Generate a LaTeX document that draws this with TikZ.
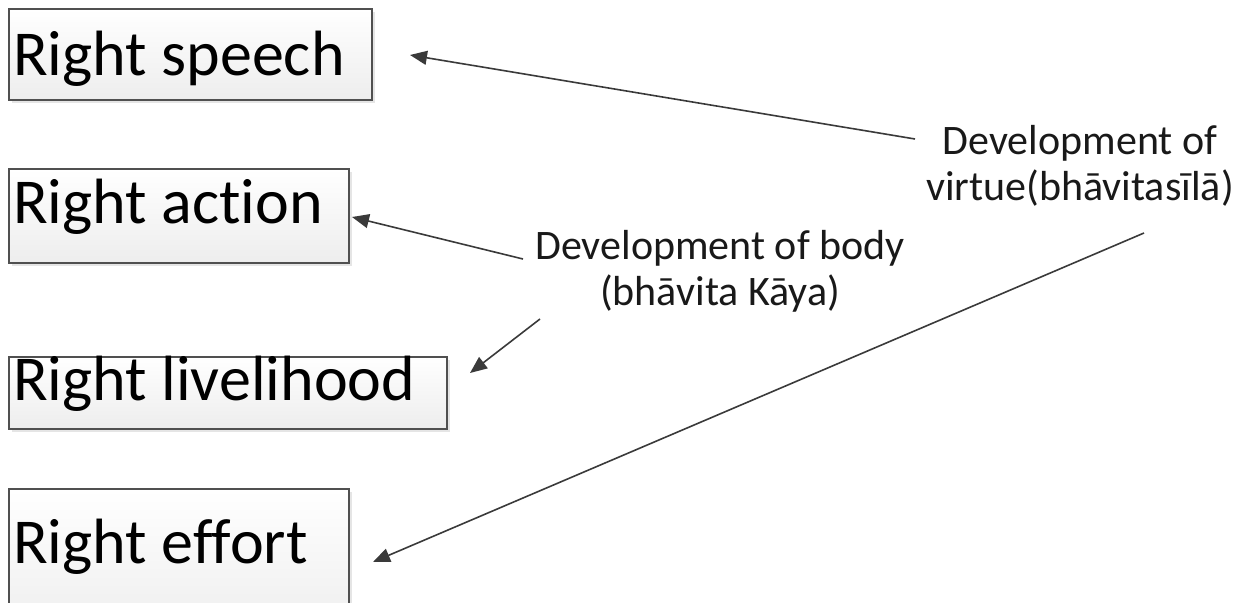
\documentclass[tikz,border=0pt]{standalone}
\usepackage{fontspec}
\setmainfont{Carlito}[Ligatures=NoCommon]
\usetikzlibrary{arrows.meta,shadows}
\definecolor{linegray}{HTML}{3A3A3A}
\definecolor{boxedge}{HTML}{505050}
\definecolor{boxbottom}{HTML}{EDEDED}
\tikzset{
  pathbox/.style={draw=boxedge, line width=1.3pt, top color=white, bottom color=boxbottom,
    general shadow={fill=black!10, shadow xshift=3pt, shadow yshift=-3pt}},
  bigtext/.style={anchor=base west, inner sep=0pt, font=\fontsize{64}{70}\selectfont, text=black},
  labeltext/.style={align=center, inner sep=0pt, font=\fontsize{42}{46}\selectfont, text=black!90},
  connector/.style={draw=linegray, line width=1.6pt, -{Triangle[length=17pt, width=14pt]}}
}
\begin{document}
\begin{tikzpicture}[x=1pt,y=-1pt]
\useasboundingbox (0,0) rectangle (1244,602);
\clip (0,0) rectangle (1244,602);
% boxes
\path[pathbox] (9,9) rectangle (372,100);
\path[pathbox] (9,169) rectangle (349,263);
\path[pathbox] (9,357) rectangle (447,429);
\path[pathbox] (9,489) rectangle (349,640);
% box texts
\node[bigtext] (speech) at (13,75) {Right speech};
\node[bigtext] (action) at (13,223) {Right action};
\node[bigtext] (livelihood) at (13,400) {Right livelihood};
\node[bigtext] (effort) at (13,563) {Right effort};
% labels (base anchor = last line baseline)
\node[labeltext, anchor=base] (body) at (720,305) {Development of body\\(bhāvita Kāya)};
\node[labeltext, anchor=base] (virtue) at (1080,200) {Development of\\virtue(bhāvitasīlā)};
% connector end points
\coordinate (s1) at (915,139);
\coordinate (t1) at (410,55);
\coordinate (s2) at (523,259);
\coordinate (t2) at (352,217);
\coordinate (s3) at (540,319);
\coordinate (t3) at (470,373);
\coordinate (s4) at (1144,233);
\coordinate (t4) at (373,562);
\draw[connector] (s1) -- (t1);
\draw[connector] (s2) -- (t2);
\draw[connector] (s3) -- (t3);
\draw[connector] (s4) -- (t4);
\end{tikzpicture}
\end{document}
